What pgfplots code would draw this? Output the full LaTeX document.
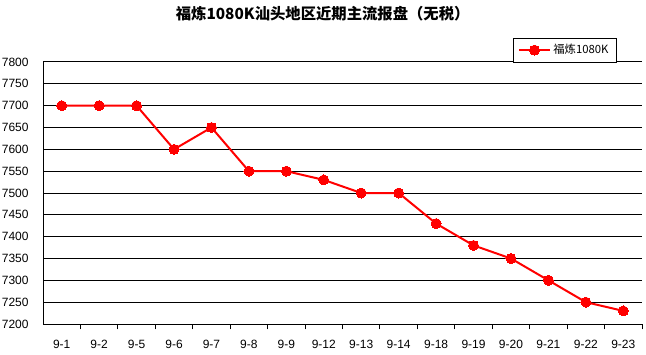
\documentclass[border=0pt]{standalone}
\usepackage{pgfplots}
\pgfplotsset{compat=1.18}
\usepackage{fontspec}
\setmainfont{Liberation Sans}
\newfontfamily\cjk{Noto Sans CJK SC}
\begin{document}
\begin{tikzpicture}
\path[use as bounding box] (0,0) rectangle (484.5pt,265.5pt);
\node[font=\cjk\bfseries\fontsize{11.5}{13}\selectfont] at (242pt,255pt) {福炼1080K汕头地区近期主流报盘（无税）};
\begin{axis}[
  at={(32.25pt,22.5pt)}, anchor=south west,
  scale only axis, width=449.25pt, height=196.5pt,
  xmin=-0.5, xmax=15.5, ymin=7200, ymax=7800,
  ytick={7200,7250,...,7800},
  xtick={0,...,15},
  xticklabels={9-1,9-2,9-5,9-6,9-7,9-8,9-9,9-12,9-13,9-14,9-18,9-19,9-20,9-21,9-22,9-23},
  minor xtick={0.5,1.5,...,15.5},
  major x tick style={draw=none},
  ytick style={draw=none},
  minor x tick style={black, line width=0.75pt},
  minor tick length=4pt,
  tick align=outside,
  axis x line*=bottom, axis y line*=left,
  axis line style={black, line width=0.75pt, -},
  ymajorgrids, grid style={black, line width=0.75pt},
  ticklabel style={font=\fontsize{9}{10}\selectfont},
  xticklabel style={yshift=-4pt},
  yticklabel style={xshift=-3pt},
  legend style={at={(0.958,1.0916)}, anchor=north east, draw=black, line width=0.5pt, font=\cjk\fontsize{8.5}{10}\selectfont, inner xsep=4pt, inner ysep=2.5pt},
  legend image code/.code={\draw[mark repeat=2,mark phase=2] plot coordinates {(0cm,0cm) (0.4cm,0cm) (0.8cm,0cm)};},
  legend cell align=left,
  yticklabel={\pgfmathprintnumber[assume math mode=true,1000 sep={}]{\tick}},
]
\addplot[red, line width=1.5pt, mark=*, mark size=3.75pt, mark options={fill=red, draw=red, line width=0pt}]
 coordinates {(0,7700) (1,7700) (2,7700) (3,7600) (4,7650) (5,7550) (6,7550) (7,7530) (8,7500) (9,7500) (10,7430) (11,7380) (12,7350) (13,7300) (14,7250) (15,7230)};
\addlegendentry{福炼1080K}
\end{axis}
\end{tikzpicture}
\end{document}
